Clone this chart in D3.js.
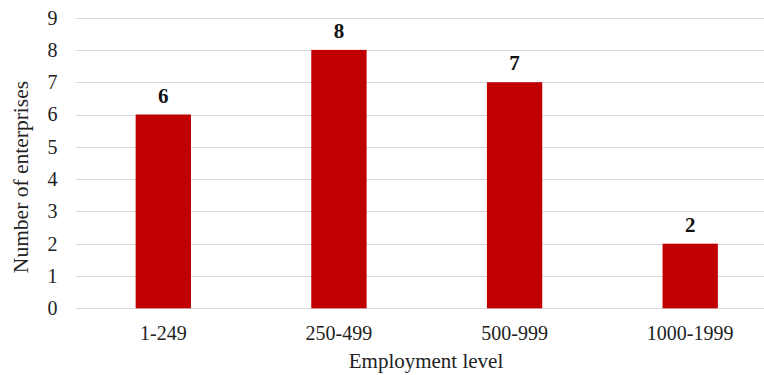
<!DOCTYPE html>
<html>
<head>
<meta charset="utf-8">
<script src="https://cdn.jsdelivr.net/npm/d3@7"></script>
<style>
  html, body { margin: 0; padding: 0; background: #fff; }
  svg { display: block; font-family: "Liberation Serif", "Times New Roman", serif; }
</style>
</head>
<body>
<svg id="chart" width="764" height="375"></svg>
<script>
const categories = ["1-249", "250-499", "500-999", "1000-1999"];
const values = [6, 8, 7, 2];
const yTicks = [0, 1, 2, 3, 4, 5, 6, 7, 8, 9];
const xTitle = "Employment level";
const yTitle = "Number of enterprises";

(function () {
const svg = d3.select("#chart");
const pLeft = 75.5, pRight = 778, pTop = 17.6, pBottom = 308.3;

const x = d3.scaleBand().domain(categories).range([pLeft, pRight]).paddingInner(0.685).paddingOuter(0.3425);
const y = d3.scaleLinear().domain([0, 9]).range([pBottom, pTop]);

// gridlines
svg.append("g").selectAll("line").data(yTicks).join("line")
  .attr("x1", pLeft).attr("x2", pRight)
  .attr("y1", d => Math.round(y(d)) + 0.5).attr("y2", d => Math.round(y(d)) + 0.5)
  .attr("stroke", "#d9d9d9").attr("stroke-width", 1);

// y axis labels
const yAxis = d3.axisLeft(y).tickValues(yTicks).tickSize(0).tickPadding(0);
const gy = svg.append("g").attr("transform", `translate(${pLeft - 18},0)`).call(yAxis);
gy.select(".domain").remove();
gy.selectAll("text").attr("font-size", 20).attr("fill", "#222").attr("font-family", "Liberation Serif");

// bars
svg.append("g").selectAll("rect").data(values).join("rect")
  .attr("x", (d, i) => x(categories[i]))
  .attr("width", x.bandwidth())
  .attr("y", d => y(d))
  .attr("height", d => y(0) - y(d))
  .attr("fill", "#C00000");

// data labels
svg.append("g").selectAll("text").data(values).join("text")
  .attr("x", (d, i) => x(categories[i]) + x.bandwidth() / 2)
  .attr("y", d => y(d) - 12)
  .attr("text-anchor", "middle")
  .attr("font-size", 21).attr("font-weight", "bold").attr("fill", "#111")
  .text(d => d);

// x axis labels
const xAxis = d3.axisBottom(x).tickSize(0).tickPadding(0);
const gx = svg.append("g").attr("transform", `translate(0,${pBottom + 17})`).call(xAxis);
gx.select(".domain").remove();
gx.selectAll("text").attr("font-size", 20).attr("fill", "#222").attr("font-family", "Liberation Serif");

// axis titles
svg.append("text").attr("x", 426).attr("y", 368).attr("text-anchor", "middle")
  .attr("font-size", 21).attr("fill", "#222").text(xTitle);
svg.append("text").attr("transform", "translate(28,177) rotate(-90)").attr("text-anchor", "middle")
  .attr("font-size", 21.5).attr("fill", "#222").text(yTitle);
})();
</script>
</body>
</html>
